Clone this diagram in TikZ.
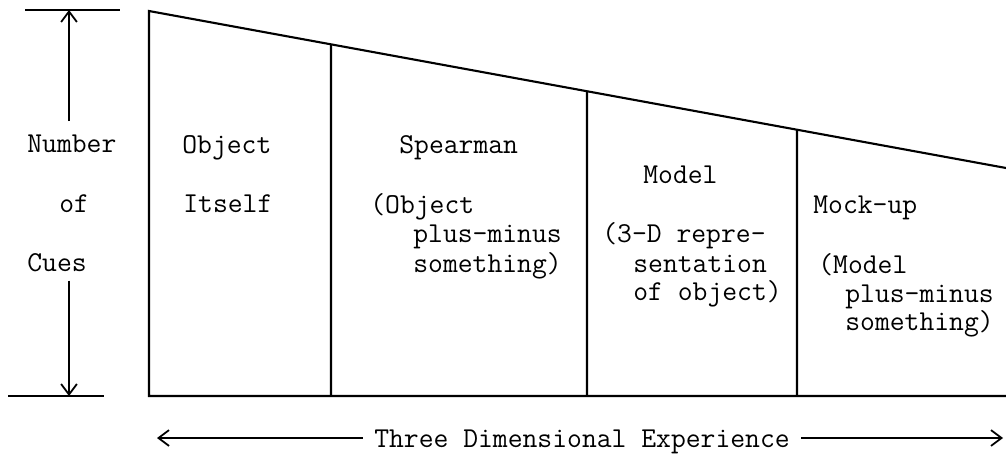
\documentclass[tikz,border=0pt]{standalone}
\usepackage{fontspec}
\usetikzlibrary{arrows.meta, calc}

\tikzset{
  cue/.style={anchor=base west, inner sep=0pt, font=\ttfamily\fontsize{16.4}{19}\selectfont},
  edge/.style={line width=1.2pt},
  barb/.style={line width=1pt, -{Straight Barb[length=6pt,width=9pt]}}
}

\begin{document}
\begin{tikzpicture}[x=0.02cm, y=-0.02cm]
    \useasboundingbox (0,0) rectangle (1006,456);
    % vertical scale
    \node[cue] (number) at (27,152) {Number};
    \node[cue] (of) at (59,212) {of};
    \node[cue] (cues) at (27,271) {Cues};
    \coordinate (ytop) at (69,10);
    \coordinate (ybot) at (69,396);
    \draw[edge] (25,10) -- (120,10);
    \draw[edge] (8,396) -- (104,396);
    \draw[barb] ($(number.north -| ytop)+(0,-13)$) -- (ytop);
    \draw[barb] ($(cues.south -| ybot)+(0,9)$) -- (ybot);
    % wedge
    \coordinate (tl) at (149,11);
    \coordinate (tr) at (1006,168);
    \coordinate (bl) at (149,396);
    \coordinate (br) at (1006,396);
    \draw[edge] (br) -- (bl) -- (tl) -- (tr);
    \foreach \x in {331,587,797} {
      \draw[edge] (\x,396) -- ($(tl)!{(\x-149)/857}!(tr)$);
    }
    % columns
    \node[cue] (obj) at (182,153) {Object};
    \node[cue] (itself) at (183,212) {Itself};
    \node[cue] (spear) at (399,153) {Spearman};
    \node[cue] (spear1) at (370,213) {(Object};
    \node[cue] (spear2) at (413,242) {plus-minus};
    \node[cue] (spear3) at (413,272) {something)};
    \node[cue] (model) at (643,183) {Model};
    \node[cue] (model1) at (602,242) {(3-D repre-};
    \node[cue] (model2) at (633,272) {sentation};
    \node[cue] (model3) at (633,300) {of object)};
    \node[cue] (mock) at (813,213) {Mock-up};
    \node[cue] (mock1) at (818,273) {(Model};
    \node[cue] (mock2) at (845,302) {plus-minus};
    \node[cue] (mock3) at (845,330) {something)};
    % horizontal scale
    \node[cue, anchor=base] (dim) at (582,447) {Three Dimensional Experience};
    \coordinate (xl) at (157,438);
    \coordinate (xr) at (1003,438);
    \draw[barb] ($(dim.west |- xl)+(-11,0)$) -- (xl);
    \draw[barb] ($(dim.east |- xr)+(11,0)$) -- (xr);
  \end{tikzpicture}
\end{document}
